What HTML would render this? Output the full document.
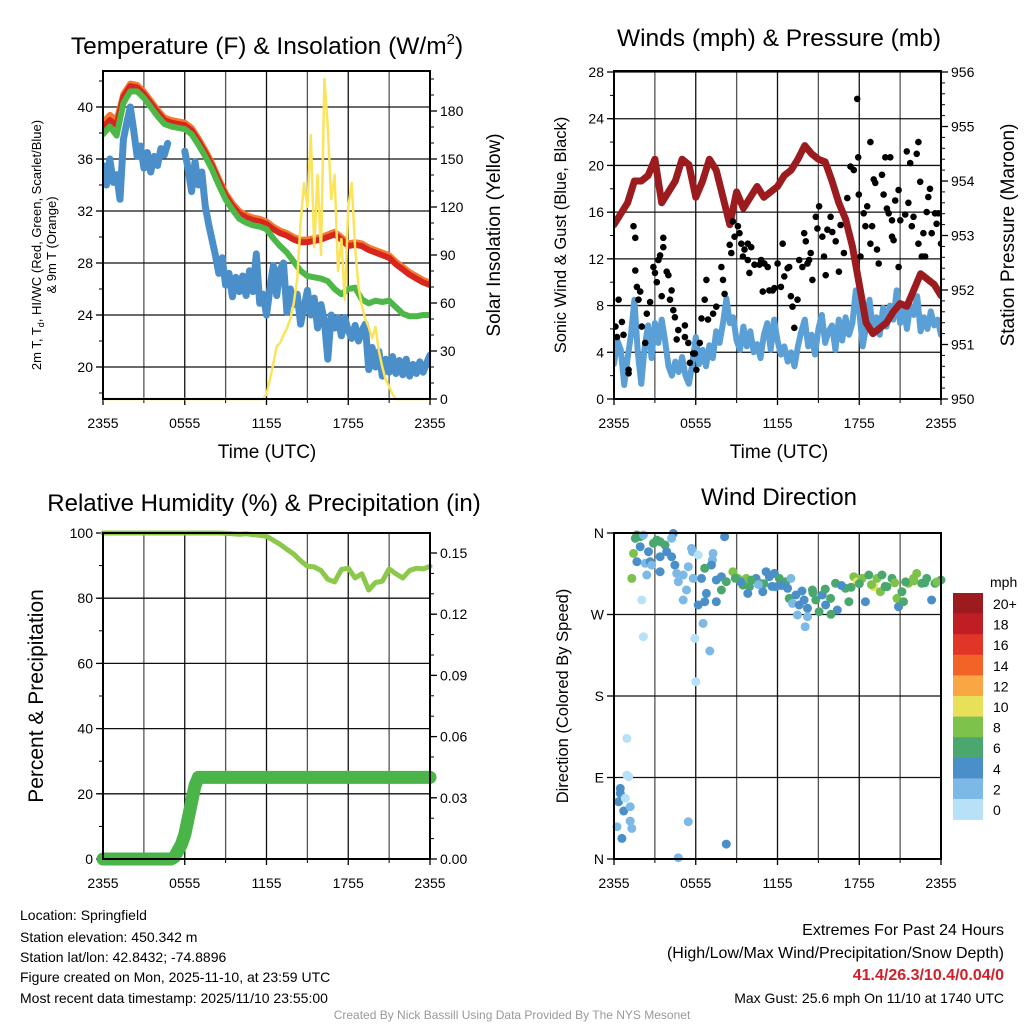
<!DOCTYPE html>
<html><head><meta charset="utf-8"><title>Mesonet Station Summary</title>
<style>
html,body{margin:0;padding:0;background:#fff;}
svg{display:block;font-family:"Liberation Sans",Arial,sans-serif;}
</style></head>
<body>
<svg id="chart" width="1024" height="1024" viewBox="0 0 1024 1024" xmlns="http://www.w3.org/2000/svg">
<rect x="0" y="0" width="1024" height="1024" fill="#fff"/>
</svg>
<script>
// ---------- Shared x-axis ----------
const X_TICK_HOURS = [0, 6, 12, 18, 24];
const X_TICK_LABELS = ["2355", "0555", "1155", "1755", "2355"];

// ---------- Panel 1: Temperature & Insolation ----------
const TEMP_TICKS = [20, 24, 28, 32, 36, 40];
const SOLAR_TICKS = [0, 30, 60, 90, 120, 150, 180];
const T_RED = [38.4,39.0,38.6,40.8,41.6,41.5,41.0,40.3,39.6,39.0,38.8,38.7,38.6,38.2,37.4,36.5,35.5,34.3,33.2,32.4,31.8,31.5,31.3,31.2,31.0,30.6,30.3,30.1,29.8,29.6,29.6,29.7,29.8,30.0,30.2,29.8,29.3,29.4,29.3,29.0,28.8,28.6,28.4,27.9,27.5,27.1,26.8,26.5,26.3];
const T_ORANGE = [38.8,39.4,39.0,41.0,41.8,41.7,41.2,40.5,39.8,39.2,39.0,38.9,38.8,38.4,37.6,36.7,35.7,34.5,33.4,32.6,32.0,31.7,31.5,31.4,31.2,30.8,30.5,30.3,30.0,29.8,29.8,29.9,30.0,30.2,30.4,30.0,29.5,29.6,29.5,29.2,29.0,28.8,28.6,28.1,27.7,27.3,27.0,26.7,26.5];
const T_GREEN = [37.9,38.5,37.8,40.3,41.2,41.2,40.7,40.0,39.3,38.7,38.5,38.4,38.3,37.9,37.1,36.2,35.2,34.0,32.9,32.1,31.4,31.1,30.9,30.8,30.6,29.9,29.3,28.8,28.1,27.4,27.0,26.9,26.8,26.6,26.0,25.6,26.0,26.1,25.2,24.9,25.1,25.0,25.1,24.6,24.1,23.9,23.9,24.0,24.0];
const TD_BLUE = [35.5,34.0,36.0,34.2,34.8,32.9,37.5,38.8,40.0,38.2,36.2,37.0,35.3,36.5,35.0,36.2,35.5,36.8,36.3,37.2,null,null,null,null,36.6,35.2,33.5,35.8,34.0,35.0,32.4,31.0,29.8,28.6,27.2,28.4,26.3,27.2,25.4,26.9,25.8,27.0,25.5,27.4,25.8,28.7,24.9,25.6,24.0,26.0,27.8,25.5,27.5,28.0,24.2,26.0,24.8,25.6,23.3,24.6,25.9,24.0,25.3,23.0,24.8,23.5,20.6,24.0,23.0,23.8,22.4,23.8,22.8,22.2,23.2,22.0,22.8,23.3,19.8,21.5,20.0,21.2,19.3,20.6,19.6,20.8,19.5,20.5,19.4,20.6,19.3,20.2,19.5,20.4,19.6,20.3,20.9];
const SOL_T = [0,11.75,12,12.25,12.5,12.75,13,13.25,13.5,13.75,14,14.25,14.5,14.75,15,15.25,15.5,15.75,16,16.25,16.5,16.75,17,17.25,17.5,17.75,18,18.25,18.5,18.75,19,19.25,19.5,19.75,20,20.25,20.5,20.75,21,21.25,21.5,24];
const SOL_V = [0,0,3,12,22,33,35,40,44,50,60,75,110,135,120,165,95,140,90,200,170,125,140,80,100,62,120,135,95,70,58,50,45,38,45,30,20,12,8,3,0,0];

// ---------- Panel 2: Winds & Pressure ----------
const WIND_TICKS = [0, 4, 8, 12, 16, 20, 24, 28];
const PRES_TICKS = [950, 951, 952, 953, 954, 955, 956];
const WIND_SPD = [3.0,5.0,4.2,1.2,3.5,5.5,8.5,4.0,1.3,4.5,6.3,3.5,6.5,4.8,6.8,5.0,2.8,2.0,3.2,2.3,3.6,2.0,1.3,3.0,5.3,3.0,4.2,2.8,4.6,3.5,5.8,4.8,6.5,8.6,6.5,7.0,5.0,4.2,6.2,4.5,5.8,4.0,4.7,3.5,5.5,6.5,4.2,6.8,5.0,3.8,4.5,3.2,4.0,2.8,4.5,5.8,6.8,4.5,5.5,3.8,6.0,7.2,4.8,5.8,6.3,4.2,6.8,5.0,7.0,5.5,6.5,9.3,7.5,4.5,6.2,8.5,5.8,7.0,5.5,7.8,6.2,8.0,6.8,9.3,6.5,7.8,6.0,8.0,7.2,8.8,5.8,7.0,6.0,7.5,6.3,6.8,5.5];
const PRES = [953.2,953.4,953.6,954.0,954.0,954.1,954.4,953.6,953.8,954.0,954.4,954.3,953.7,954.0,954.4,954.2,953.7,953.2,953.8,953.5,953.7,953.9,953.7,953.8,953.9,954.1,954.2,954.4,954.65,954.5,954.4,954.35,954.0,953.6,953.3,952.8,952.1,951.4,951.2,951.3,951.4,951.6,951.75,951.7,952.0,952.3,952.2,952.1,951.9];
const GUST_T = [0.1,0.34,0.22,0.58,0.7,1.07,1.07,1.43,1.56,1.56,1.68,1.92,1.8,2.04,2.29,2.41,2.65,2.89,3.01,3.14,3.26,3.38,3.62,3.62,3.87,3.99,3.5,4.23,4.11,4.35,4.47,4.6,4.72,5.2,5.2,5.45,5.57,5.81,6.05,5.93,6.3,6.78,6.66,6.42,6.9,7.27,7.51,7.88,8.0,8.12,8.49,8.73,8.85,9.09,8.61,9.21,9.34,9.46,9.58,9.82,9.82,9.94,10.07,10.31,10.67,10.8,10.92,11.04,11.28,11.4,11.65,11.77,12.01,12.25,12.38,12.5,12.74,12.86,12.98,13.1,13.23,13.47,13.59,13.83,13.96,14.08,14.2,14.32,14.44,14.56,14.81,14.93,15.05,15.29,15.41,15.54,15.66,15.9,16.02,16.27,16.51,16.63,16.87,17.12,17.36,17.6,17.97,17.92,17.85,18.09,18.33,18.45,18.58,18.82,18.82,18.94,19.06,19.18,19.3,19.43,19.67,19.79,19.91,20.03,20.28,20.16,20.4,20.4,20.52,20.64,20.89,20.89,21.01,21.37,21.49,21.61,21.74,21.86,21.98,22.22,22.34,22.47,22.71,22.83,22.95,23.07,23.19,23.32,23.56,23.68,23.8,24.0,22.34,22.59];
const GUST_V = [6.2,8.5,5.3,6.6,5.5,2.5,2.2,14.8,13.8,11.0,9.6,9.2,8.5,6.2,4.8,7.3,8.3,11.3,10.8,10.0,11.9,12.3,13.0,13.8,10.9,10.6,8.8,9.3,8.5,7.6,7.0,5.1,5.9,6.3,5.3,4.8,3.1,3.9,2.5,3.9,4.8,10.2,8.5,6.9,6.8,7.3,7.9,11.3,10.2,9.0,13.2,15.2,13.9,14.8,12.5,14.2,13.3,12.2,12.8,13.3,11.9,10.8,13.0,11.5,11.5,11.9,9.2,11.6,11.3,9.3,9.3,9.5,11.6,9.6,13.3,10.5,11.2,11.3,8.8,7.9,6.1,8.5,11.9,11.3,14.2,13.5,11.6,11.9,12.5,10.2,15.6,14.6,16.5,13.9,12.2,10.6,14.5,15.6,14.3,13.5,10.9,14.9,12.5,17.2,19.9,19.6,17.5,20.7,25.7,12.2,15.9,14.8,16.5,22.0,13.3,14.8,18.8,18.5,12.8,11.6,19.2,17.5,20.7,16.3,20.7,15.9,15.3,13.9,13.6,17.0,17.9,11.3,15.3,15.8,21.2,16.8,20.2,14.8,15.6,21.0,22.0,18.6,14.2,12.2,16.0,17.3,18.0,14.2,15.9,15.0,15.9,13.3,13.3,12.2];

// ---------- Panel 3: RH & Precipitation ----------
const RH_TICKS = [0, 20, 40, 60, 80, 100];
const PCP_TICKS = [0, 0.03, 0.06, 0.09, 0.12, 0.15];
const PCP_TICK_LABELS = ["0.00", "0.03", "0.06", "0.09", "0.12", "0.15"];
const RH = [100,100,100,100,100,100,100,100,100,100,100,100,100,100,100,100,100,100,99.9,99.8,99.6,99.8,99.5,99.3,99.0,97.8,96.5,95.0,93.5,91.5,89.8,89.6,88.5,85.8,85.0,88.8,89.2,86.2,87.5,82.5,84.8,85.2,89.0,87.5,86.2,88.5,89.2,89.0,89.8];
const PCP_T = [0,5,5.25,5.5,5.75,6,6.25,6.5,6.75,7,24];
const PCP_V = [0,0,0.001,0.004,0.007,0.012,0.02,0.028,0.036,0.04,0.04];

// ---------- Panel 4: Wind direction ----------
const DIR_TICKS = [0, 90, 180, 270, 360];
const DIR_LABELS = ["N", "E", "S", "W", "N"];
const DIR_T = [1.68,1.56,1.92,2.16,4.35,4.23,8.12,3.14,3.38,2.89,3.74,1.43,1.92,2.53,3.38,3.87,4.23,4.47,1.68,2.29,2.65,2.77,2.41,3.38,1.31,2.04,4.6,4.72,5.08,5.45,5.69,5.76,6.18,7.27,7.22,7.15,6.66,5.32,5.81,5.08,6.18,6.42,6.78,6.66,7.51,7.51,7.88,7.88,8.24,8.73,9.09,9.7,9.46,9.94,9.82,10.43,10.67,10.92,11.16,11.4,11.77,11.89,12.13,12.62,12.74,12.98,12.86,13.1,13.35,13.59,13.95,14.2,14.56,14.81,15.05,15.29,15.53,15.9,16.26,16.39,16.99,17.24,17.6,17.84,18.21,18.45,18.7,19.06,19.3,19.67,19.55,20.03,20.4,20.76,20.88,21.13,21.25,21.61,21.98,22.22,22.58,22.95,23.31,23.56,24.0,14.2,14.03,13.47,15.92,2.16,5.93,6.54,7.03,6.0,0.95,0.95,1.07,0.46,0.46,0.34,0.83,0.71,1.19,0.22,1.19,1.31,0.58,5.45,8.24,4.72,9.3,10.1,11.0,12.3,13.8,14.6,15.5,16.7,17.4,18.0,18.9,19.9,20.6,21.4,22.0,22.8,23.7,8.9,10.6,11.6];
const DIR_DEG = [357.8,354.1,355.9,357.8,359.6,354.1,355.9,352.2,350.4,348.6,346.7,337.5,344.9,339.4,333.8,339.4,333.8,324.6,328.3,326.5,328.3,324.6,313.6,317.3,309.9,286.0,315.4,306.2,313.6,322.8,343.0,339.4,335.7,337.5,330.1,324.6,321.0,297.0,309.9,286.0,280.5,309.9,293.3,284.1,284.1,308.1,311.7,297.0,306.2,317.3,309.9,309.9,302.5,300.7,293.3,309.9,304.4,295.2,317.3,311.7,315.4,300.7,309.9,306.2,298.9,309.9,287.8,282.3,291.5,280.5,286.0,276.8,297.0,286.0,273.1,291.5,280.5,287.8,304.4,275.0,298.9,284.1,311.7,306.2,309.9,284.1,313.6,300.7,309.9,313.6,295.2,300.7,309.9,287.8,278.6,295.2,284.1,304.4,309.9,315.4,304.4,309.9,286.0,304.4,308.1,267.6,256.5,269.4,270.2,245.5,243.6,260.2,229.7,195.8,133.2,92.7,90.9,78.0,72.5,63.3,67.0,53.0,57.8,35.7,41.9,33.8,22.8,41.2,16.5,1.4,306.0,308.0,304.0,302.0,296.0,294.0,298.0,302.0,300.0,304.0,303.0,301.0,305.0,306.0,307.0,305.0,306.0,310.0,303.0,301.0];
const DIR_SPD = [7,7,6.5,3,5,3,5,7,7,7,7,9,5,5,5,4.5,5,5,5,3,4.5,3,3,5,8.5,1,3,3,3,3,2.5,3,1.5,3,3,5,7,3,3,3,5,5,5,5,5,4.5,5,7,7,9,8.5,8.5,7,7,5,5,7,5,5,5,5,5,7,7,5,3,7,3,5,5,5,5,7,7,7,5,5,7,7,5,7,7,9,10.5,8.5,5,7,10.5,8.5,7,9,7,7,8.5,5,7,7,9,9,8.5,7,7,5,7,7,3,3,3,7,1,1.5,3,3,1.5,1.5,1.5,1.5,5,5,5,1.5,5,3,3,3,3,5,3,5,3,5,7,7,5,5,7,7,5,7,7,9,7,9,7,8.5,7,8.5,7,3,5];
const CBAR_LABELS = ["0", "2", "4", "6", "8", "10", "12", "14", "16", "18", "20+"];
const CBAR_COLORS = ["#b7e1f7","#7cb9e6","#4a8fc7","#4aa86e","#7dc24b","#e9e05a","#f9a744","#f26328","#e03527","#c01d24","#9b1b1e"];

// ---------- helpers ----------
const NS = "http://www.w3.org/2000/svg";
const svg = document.getElementById("chart");
function mk(tag, attrs, parent) {
  const e = document.createElementNS(NS, tag);
  for (const k in attrs) e.setAttribute(k, attrs[k]);
  (parent || svg).appendChild(e);
  return e;
}
function lin(d0, d1, r0, r1) { return v => r0 + (v - d0) * (r1 - r0) / (d1 - d0); }
function pathFrom(ts, vs, sx, sy) {
  let d = "", pen = false;
  for (let i = 0; i < ts.length; i++) {
    if (vs[i] === null) { pen = false; continue; }
    d += (pen ? "L" : "M") + sx(ts[i]).toFixed(1) + "," + sy(vs[i]).toFixed(1);
    pen = true;
  }
  return d;
}
function halfHours(n) { const a = []; for (let i = 0; i < n; i++) a.push(i * 0.5); return a; }
function quarterHours(n) { const a = []; for (let i = 0; i < n; i++) a.push(i * 0.25); return a; }
function txt(x, y, s, size, anchor, parent, extra) {
  const t = mk("text", Object.assign({x: x, y: y, "font-size": size, "text-anchor": anchor || "middle", fill: "#000"}, extra || {}), parent);
  t.textContent = s;
  return t;
}

function frame(g, x1, x2, y1, y2, sx) {
  for (let h = 3; h < 24; h += 3) {
    const l = mk("line", {x1: sx(h), x2: sx(h), y1: y1, y2: y2, stroke: h % 6 === 0 ? "#111" : "#555", "stroke-width": 1.3}, g);
    
    
  }
  for (let i = 0; i < X_TICK_HOURS.length; i++) {
    const x = sx(X_TICK_HOURS[i]);
    mk("line", {x1: x, x2: x, y1: y2, y2: y2 + 6, stroke: "#000", "stroke-width": 1.3}, g);
    const t = txt(x, y2 + 29, X_TICK_LABELS[i], 14, "middle", g);
    
    
  }
  for (let h = 3; h < 24; h += 6) {
    mk("line", {x1: sx(h), x2: sx(h), y1: y2, y2: y2 + 4, stroke: "#000", "stroke-width": 1}, g);
  }
}
function border(g, x1, x2, y1, y2) {
  const r = mk("rect", {x: x1, y: y1, width: x2 - x1, height: y2 - y1, fill: "none", stroke: "#000", "stroke-width": 2}, g);
  
  
}
function leftAxis(g, ticks, labels, sy, x1, x2, grid, minorStep, lo, hi) {
  for (let i = 0; i < ticks.length; i++) {
    const y = sy(ticks[i]);
    if (grid) mk("line", {x1: x1, x2: x2, y1: y, y2: y, stroke: "#111", "stroke-width": 1.3}, g);
    mk("line", {x1: x1 - 7, x2: x1, y1: y, y2: y, stroke: "#000", "stroke-width": 1.3}, g);
    const t = txt(x1 - 10, y + 5, labels[i], 14, "end", g);
    
    
  }
  if (minorStep) for (let v = lo; v <= hi + 1e-9; v += minorStep) {
    const y = sy(v);
    mk("line", {x1: x1 - 4, x2: x1, y1: y, y2: y, stroke: "#000", "stroke-width": 1}, g);
  }
}
function rightAxis(g, ticks, labels, sy, x2, minorStep, lo, hi) {
  for (let i = 0; i < ticks.length; i++) {
    const y = sy(ticks[i]);
    mk("line", {x1: x2, x2: x2 + 7, y1: y, y2: y, stroke: "#000", "stroke-width": 1.3}, g);
    const t = txt(x2 + 10, y + 5, labels[i], 14, "start", g);
    
    
  }
  if (minorStep) for (let v = lo; v <= hi + 1e-9; v += minorStep) {
    const y = sy(v);
    mk("line", {x1: x2, x2: x2 + 4, y1: y, y2: y, stroke: "#000", "stroke-width": 1}, g);
  }
}
function seriesPath(g, d, color, w, name) {
  const p = mk("path", {d: d, fill: "none", stroke: color, "stroke-width": w, "stroke-linejoin": "round", "stroke-linecap": "round"}, g);
  
  
  return p;
}

// ================= Panel 1 =================
(function () {
  const x1 = 103, x2 = 430, y1 = 71, y2 = 399;
  const g = mk("g", {}, svg);
  
  
  const sx = lin(0, 24, x1, x2);
  const sy = lin(20, 40, 367, 107);
  const sr = lin(0, 180, 399, 111);
  frame(g, x1, x2, y1, y2, sx);
  leftAxis(g, TEMP_TICKS, TEMP_TICKS.map(String), sy, x1, x2, true, 2, 18, 42);
  rightAxis(g, SOLAR_TICKS, SOLAR_TICKS.map(String), sr, x2, 10, 0, 200);
  const clip = mk("clipPath", {id: "c1"}, g);
  mk("rect", {x: x1, y: y1, width: x2 - x1, height: y2 - y1 + 3}, clip);
  const d = mk("g", {"clip-path": "url(#c1)"}, g);
  const hh = halfHours(49);
  seriesPath(d, pathFrom(hh, T_ORANGE, sx, sy), "#f47a30", 6, "9m-temperature-line");
  seriesPath(d, pathFrom(hh, T_RED, sx, sy), "#d7261e", 6, "2m-temperature-line");
  seriesPath(d, pathFrom(hh, T_GREEN, sx, sy), "#4db848", 6, "wind-chill-line");
  seriesPath(d, pathFrom(quarterHours(97), TD_BLUE, sx, sy), "#4b8fca", 7, "dewpoint-line");
  seriesPath(d, pathFrom(SOL_T, SOL_V, sx, sr), "#fbe45a", 2.5, "solar-insolation-line");
  border(g, x1, x2, y1, y2);
  const title = txt(267, 54, "", 24.5, "middle", g);
  title.innerHTML = 'Temperature (F) &amp; Insolation (W/m<tspan dy="-10" font-size="15">2</tspan><tspan dy="10">)</tspan>';
  
  
  const xl = txt(267, 458, "Time (UTC)", 19, "middle", g);
  
  
  const yl = mk("text", {transform: "translate(41,245) rotate(-90)", "font-size": 13, "text-anchor": "middle"}, g);
  yl.innerHTML = '2m T, T<tspan dy="3" font-size="9">d</tspan><tspan dy="-3">, HI/WC (Red, Green, Scarlet/Blue)</tspan>';
  
  
  const yl2 = mk("text", {transform: "translate(56,245) rotate(-90)", "font-size": 13, "text-anchor": "middle"}, g);
  yl2.textContent = "& 9m T (Orange)";
  
  
  const rl = mk("text", {transform: "translate(500,235) rotate(-90)", "font-size": 19, "text-anchor": "middle"}, g);
  rl.textContent = "Solar Insolation (Yellow)";
  
  
})();

// ================= Panel 2 =================
(function () {
  const x1 = 614, x2 = 941, y1 = 71, y2 = 399;
  const g = mk("g", {}, svg);
  
  
  const sx = lin(0, 24, x1, x2);
  const sy = lin(0, 28, 399, 72);
  const sp = lin(950, 956, 399, 72);
  frame(g, x1, x2, y1, y2, sx);
  leftAxis(g, WIND_TICKS, WIND_TICKS.map(String), sy, x1, x2, true, 2, 0, 28);
  rightAxis(g, PRES_TICKS, PRES_TICKS.map(String), sp, x2, 0.2, 950, 956);
  const clip = mk("clipPath", {id: "c2"}, g);
  mk("rect", {x: x1, y: y1, width: x2 - x1, height: y2 - y1}, clip);
  const d = mk("g", {"clip-path": "url(#c2)"}, g);
  seriesPath(d, pathFrom(quarterHours(97), WIND_SPD, sx, sy), "#5a9fd6", 6, "sonic-wind-line");
  seriesPath(d, pathFrom(halfHours(49), PRES, sx, sp), "#9b1b1e", 7, "station-pressure-line");
  for (let i = 0; i < GUST_T.length; i++) {
    const c = mk("circle", {cx: sx(GUST_T[i]).toFixed(1), cy: sy(GUST_V[i]).toFixed(1), r: 3.3, fill: "#000"}, d);
    
    
  }
  border(g, x1, x2, y1, y2);
  const title = txt(779, 46, "Winds (mph) & Pressure (mb)", 24.5, "middle", g);
  
  
  const xl = txt(779, 458, "Time (UTC)", 19, "middle", g);
  
  
  const yl = mk("text", {transform: "translate(566,235) rotate(-90)", "font-size": 16.5, "text-anchor": "middle"}, g);
  yl.textContent = "Sonic Wind & Gust (Blue, Black)";
  
  
  const rl = mk("text", {transform: "translate(1014,235) rotate(-90)", "font-size": 19, "text-anchor": "middle"}, g);
  rl.textContent = "Station Pressure (Maroon)";
  
  
})();

// ================= Panel 3 =================
(function () {
  const x1 = 103, x2 = 430, y1 = 533, y2 = 859;
  const g = mk("g", {}, svg);
  
  
  const sx = lin(0, 24, x1, x2);
  const sy = lin(0, 100, 859, 533);
  const sp = lin(0, 0.15, 859, 553);
  frame(g, x1, x2, y1, y2, sx);
  leftAxis(g, RH_TICKS, RH_TICKS.map(String), sy, x1, x2, true, 10, 0, 100);
  rightAxis(g, PCP_TICKS, PCP_TICK_LABELS, sp, x2, 0.01, 0, 0.15);
  const clip = mk("clipPath", {id: "c3"}, g);
  mk("rect", {x: x1 - 8, y: y1 - 5, width: x2 - x1 + 16, height: y2 - y1 + 12}, clip);
  const d = mk("g", {"clip-path": "url(#c3)"}, g);
  seriesPath(d, pathFrom(halfHours(49), RH, sx, sy), "#8cc84b", 5, "relative-humidity-line");
  seriesPath(d, pathFrom(PCP_T, PCP_V, sx, sp), "#4ab448", 13, "precipitation-line");
  border(g, x1, x2, y1, y2);
  const title = txt(264, 511, "Relative Humidity (%) & Precipitation (in)", 24, "middle", g);
  
  
  const yl = mk("text", {transform: "translate(43,696) rotate(-90)", "font-size": 21, "text-anchor": "middle"}, g);
  yl.textContent = "Percent & Precipitation";
  
  
})();

// ================= Panel 4 =================
(function () {
  const x1 = 614, x2 = 941, y1 = 533, y2 = 859;
  const g = mk("g", {}, svg);
  
  
  const sx = lin(0, 24, x1, x2);
  const sy = lin(0, 360, 859, 533);
  frame(g, x1, x2, y1, y2, sx);
  leftAxis(g, DIR_TICKS, DIR_LABELS, sy, x1, x2, true, 0, 0, 0);
  const d = mk("g", {}, g);
  function colorFor(s) { let k = Math.floor(s / 2); if (k > 10) k = 10; if (k < 0) k = 0; return CBAR_COLORS[k]; }
  for (let i = 0; i < DIR_T.length; i++) {
    const c = mk("circle", {cx: sx(DIR_T[i]).toFixed(1), cy: sy(DIR_DEG[i]).toFixed(1), r: 4.5, fill: colorFor(DIR_SPD[i])}, d);
    
    
  }
  border(g, x1, x2, y1, y2);
  const title = txt(779, 505, "Wind Direction", 24, "middle", g);
  
  
  const yl = mk("text", {transform: "translate(568,696) rotate(-90)", "font-size": 16.5, "text-anchor": "middle"}, g);
  yl.textContent = "Direction (Colored By Speed)";
  
  
  const cb = mk("g", {}, svg);
  
  
  const bh = 20.6, top = 593;
  for (let i = 0; i < CBAR_COLORS.length; i++) {
    const k = CBAR_COLORS.length - 1 - i;
    const r = mk("rect", {x: 953, y: (top + i * bh).toFixed(1), width: 30, height: bh + 0.3, fill: CBAR_COLORS[k]}, cb);
    
    
    const t = txt(993, top + i * bh + 16, CBAR_LABELS[k], 14, "start", cb);
    
    
  }
  const u = txt(990, 587, "mph", 14, "start", cb);
  
  
})();

// ================= Footer text =================
(function () {
  const g = mk("g", {}, svg);
  
  
  const lines = ["Location: Springfield", "Station elevation: 450.342 m", "Station lat/lon: 42.8432; -74.8896", "Figure created on Mon, 2025-11-10, at 23:59 UTC", "Most recent data timestamp: 2025/11/10 23:55:00"];
  const ys = [920, 942, 962, 982, 1003];
  for (let i = 0; i < lines.length; i++) {
    const t = txt(20, ys[i], lines[i], 14, "start", g);
    
    
  }
  const e = mk("g", {}, svg);
  
  
  const a = txt(1004, 935, "Extremes For Past 24 Hours", 16, "end", e);
  
  
  const b = txt(1004, 958, "(High/Low/Max Wind/Precipitation/Snow Depth)", 16, "end", e);
  
  
  const c = txt(1004, 980, "41.4/26.3/10.4/0.04/0", 16, "end", e, {fill: "#d0202a", "font-weight": "bold"});
  
  
  const d = txt(1004, 1003, "Max Gust: 25.6 mph On 11/10 at 1740 UTC", 14, "end", e);
  
  
  const f = txt(512, 1019, "Created By Nick Bassill Using Data Provided By The NYS Mesonet", 12, "middle", svg, {fill: "#999"});
  
  
})();
</script>
</body></html>
